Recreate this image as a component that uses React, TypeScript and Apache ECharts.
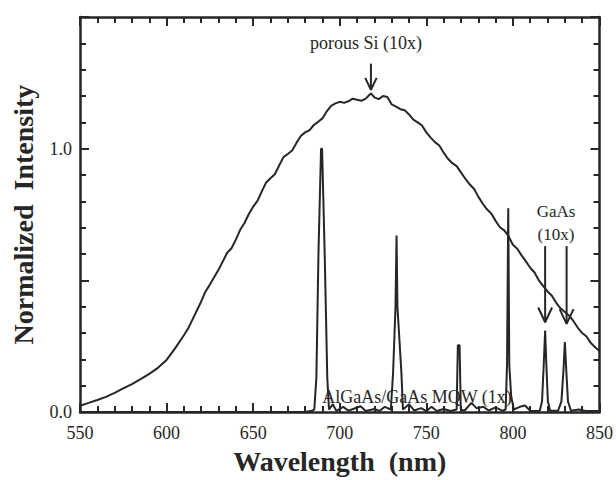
import React, { useEffect, useRef } from "react";
import * as echarts from "echarts";

// porous Si (10x) broad PL band (with its visible wiggles)
const siWavelength = [
  550, 555, 560, 565, 570, 575, 580, 585, 590, 595, 600, 605, 610, 612.5, 615, 620, 622.5, 625, 630, 635,
  637.5, 640, 642.5, 645, 647.5, 650, 652.5, 655, 657.5, 660, 662.5, 665, 667.5, 670, 672.5, 675, 677.5, 680, 682.5, 685,
  687.5, 690, 692.5, 695, 697.5, 700, 702.5, 705, 707.5, 710, 712.5, 715, 716.5, 718, 720, 722.5, 725, 727.5, 730, 732.5,
  735, 737.5, 740, 742.5, 745, 747.5, 750, 752.5, 755, 757.5, 760, 762.5, 765, 767.5, 770, 772.5, 775, 777.5, 780, 782.5,
  785, 787.5, 790, 792.5, 795, 797.5, 800, 802.5, 805, 807.5, 810, 812.5, 815, 817.5, 820, 822.5, 825, 827.5, 830, 832.5,
  835, 837.5, 840, 842.5, 845, 847.5, 850,
];
const siIntensity = [
  0.024, 0.035, 0.046, 0.058, 0.073, 0.09, 0.106, 0.125, 0.145, 0.168, 0.198, 0.243, 0.292, 0.318, 0.352, 0.42, 0.458, 0.484, 0.54, 0.605,
  0.622, 0.655, 0.692, 0.718, 0.752, 0.78, 0.802, 0.838, 0.872, 0.888, 0.903, 0.936, 0.968, 0.98, 0.993, 1.022, 1.048, 1.062, 1.07, 1.09,
  1.102, 1.115, 1.142, 1.163, 1.172, 1.178, 1.174, 1.18, 1.19, 1.186, 1.182, 1.19, 1.2, 1.21, 1.195, 1.188, 1.2, 1.196, 1.168, 1.16,
  1.15, 1.146, 1.13, 1.11, 1.1, 1.088, 1.062, 1.042, 1.025, 1.012, 0.985, 0.962, 0.945, 0.934, 0.91, 0.886, 0.865, 0.848, 0.818, 0.792,
  0.77, 0.754, 0.726, 0.702, 0.69, 0.668, 0.635, 0.62, 0.595, 0.572, 0.548, 0.53, 0.5, 0.478, 0.458, 0.442, 0.415, 0.394, 0.38, 0.366,
  0.345, 0.32, 0.3, 0.287, 0.262, 0.246, 0.232,
];

// AlGaAs/GaAs MQW (1x) and GaAs (10x) sharp lines
const mqwWavelength = [
  550, 680, 684, 685.3, 686.5, 687.7, 689.2, 689.8, 691.3, 692.8, 693.8, 696, 698, 702, 705, 712, 715, 720, 723, 726,
  729.5, 730.8, 732.2, 732.8, 733.3, 735.6, 736.5, 740, 743, 747, 750, 753, 756, 760, 764, 767.5, 768.2, 769.2, 769.9, 772,
  776, 779, 783, 786, 790, 794, 795.8, 796.6, 797.3, 797.9, 799, 800.5, 804, 807, 810, 813, 815.5, 816.8, 817.8, 818.6,
  819.3, 820.2, 821.5, 826, 828, 829.2, 830, 830.8, 831.8, 833.5, 838, 842, 850,
];
const mqwIntensity = [
  0, 0, 0.005, 0.01, 0.13, 0.6, 1.0, 1.0, 0.6, 0.13, 0.01, 0.03, 0.005, 0.02, 0.005, 0.022, 0.004, 0.012, 0.004, 0.02,
  0.01, 0.15, 0.4, 0.67, 0.4, 0.15, 0.01, 0.03, 0.006, 0.015, 0.004, 0.02, 0.004, 0.012, 0.004, 0.01, 0.254, 0.254, 0.01, 0.005,
  0.035, 0.015, 0.02, 0.006, 0.018, 0.005, 0.01, 0.18, 0.774, 0.18, 0.06, 0.01, 0.02, 0.025, 0.005, 0.004, 0.005, 0.04, 0.18, 0.31,
  0.18, 0.04, 0.005, 0.005, 0.04, 0.16, 0.266, 0.16, 0.04, 0.005, 0.01, 0.004, 0.004,
];

// annotation arrows (data coordinates)
const arrowX = [718, 818.6, 831];
const arrowTop = [1.323, 0.63, 0.63];
const arrowTip = [1.224, 0.341, 0.335];
const arrowHalfWidth = [3.3, 4.0, 4.0];
const arrowHeadLen = [0.045, 0.056, 0.056];

const xTicks = [550, 600, 650, 700, 750, 800, 850];
const yLabels = ["0.0", "1.0"];

const INK = "#262626";
const SERIF = "'Liberation Serif', 'Times New Roman', serif";

export default function App() {
  const ref = useRef<HTMLDivElement>(null);
  useEffect(() => {
    document.body.style.margin = "0";
    if (!ref.current) return;
    const chart = echarts.init(ref.current, null, { renderer: "svg" });

    const lineStyle = { color: INK, width: 2 };
    const series: any[] = [
      {
        type: "line",
        data: siWavelength.map((w, i) => [w, siIntensity[i]]),
        showSymbol: false,
        symbol: "none",
        lineStyle,
        z: 3,
      },
      {
        type: "line",
        data: mqwWavelength.map((w, i) => [w, mqwIntensity[i]]),
        showSymbol: false,
        symbol: "none",
        lineStyle,
        z: 3,
      },
    ];
    arrowX.forEach((x, i) => {
      series.push({
        type: "line",
        data: [
          [x, arrowTop[i]],
          [x, arrowTip[i]],
        ],
        showSymbol: false,
        symbol: "none",
        lineStyle,
        z: 4,
      });
      series.push({
        type: "line",
        data: [
          [x - arrowHalfWidth[i], arrowTip[i] + arrowHeadLen[i]],
          [x, arrowTip[i]],
          [x + arrowHalfWidth[i], arrowTip[i] + arrowHeadLen[i]],
        ],
        showSymbol: false,
        symbol: "none",
        lineStyle,
        z: 4,
      });
    });

    const xAxisCommon = (position: string) => ({
      type: "value",
      position,
      min: 550,
      max: 850,
      interval: 50,
      axisLine: { show: true, onZero: false, lineStyle: { color: INK, width: 2.5 } },
      splitLine: { show: false },
      axisTick: { show: true, inside: true, length: 9, lineStyle: { color: INK, width: 2 } },
      minorTick: { show: true, splitNumber: 5, length: 6, lineStyle: { color: INK, width: 2 } },
    });
    const yAxisCommon = (position: string) => ({
      type: "value",
      position,
      min: 0,
      max: 1.5,
      interval: 0.5,
      axisLine: { show: true, onZero: false, lineStyle: { color: INK, width: 2.5 } },
      splitLine: { show: false },
      axisTick: { show: true, inside: true, length: 9, lineStyle: { color: INK, width: 2 } },
      minorTick: { show: true, splitNumber: 5, length: 6, lineStyle: { color: INK, width: 2 } },
    });

    chart.setOption({
      animation: false,
      backgroundColor: "#ffffff",
      grid: { left: 80, right: 15, top: 17, bottom: 62 },
      xAxis: [
        {
          ...xAxisCommon("bottom"),
          name: "Wavelength  (nm)",
          nameLocation: "middle",
          nameGap: 30,
          nameTextStyle: { fontFamily: SERIF, fontSize: 28, fontWeight: "bold", color: INK },
          axisLabel: {
            fontFamily: SERIF,
            fontSize: 18,
            color: INK,
            margin: 12,
            formatter: (v: number) => (xTicks.includes(v) ? String(v) : ""),
          },
        },
        { ...xAxisCommon("top"), axisLabel: { show: false } },
      ],
      yAxis: [
        {
          ...yAxisCommon("left"),
          name: "Normalized  Intensity",
          nameLocation: "middle",
          nameRotate: 90,
          nameGap: 43,
          nameTextStyle: { fontFamily: SERIF, fontSize: 28, fontWeight: "bold", color: INK },
          axisLabel: {
            fontFamily: SERIF,
            fontSize: 18,
            color: INK,
            margin: 8,
            formatter: (v: number) => {
              const s = v.toFixed(1);
              return yLabels.includes(s) ? s : "";
            },
          },
        },
        { ...yAxisCommon("right"), axisLabel: { show: false } },
      ],
      series,
      graphic: [
        {
          type: "text",
          x: 366,
          y: 43,
          style: { text: "porous Si (10x)", font: `18px ${SERIF}`, fill: INK, align: "center", verticalAlign: "middle" },
        },
        {
          type: "text",
          x: 556,
          y: 211,
          style: { text: "GaAs", font: `17px ${SERIF}`, fill: INK, align: "center", verticalAlign: "middle" },
        },
        {
          type: "text",
          x: 556,
          y: 234,
          style: { text: "(10x)", font: `17px ${SERIF}`, fill: INK, align: "center", verticalAlign: "middle" },
        },
        {
          type: "text",
          x: 417,
          y: 397,
          style: { text: "AlGaAs/GaAs MQW (1x)", font: `18px ${SERIF}`, fill: INK, align: "center", verticalAlign: "middle" },
        },
      ],
    });
    return () => chart.dispose();
  }, []);
  return <div ref={ref} style={{ width: 616, height: 480 }} />;
}
